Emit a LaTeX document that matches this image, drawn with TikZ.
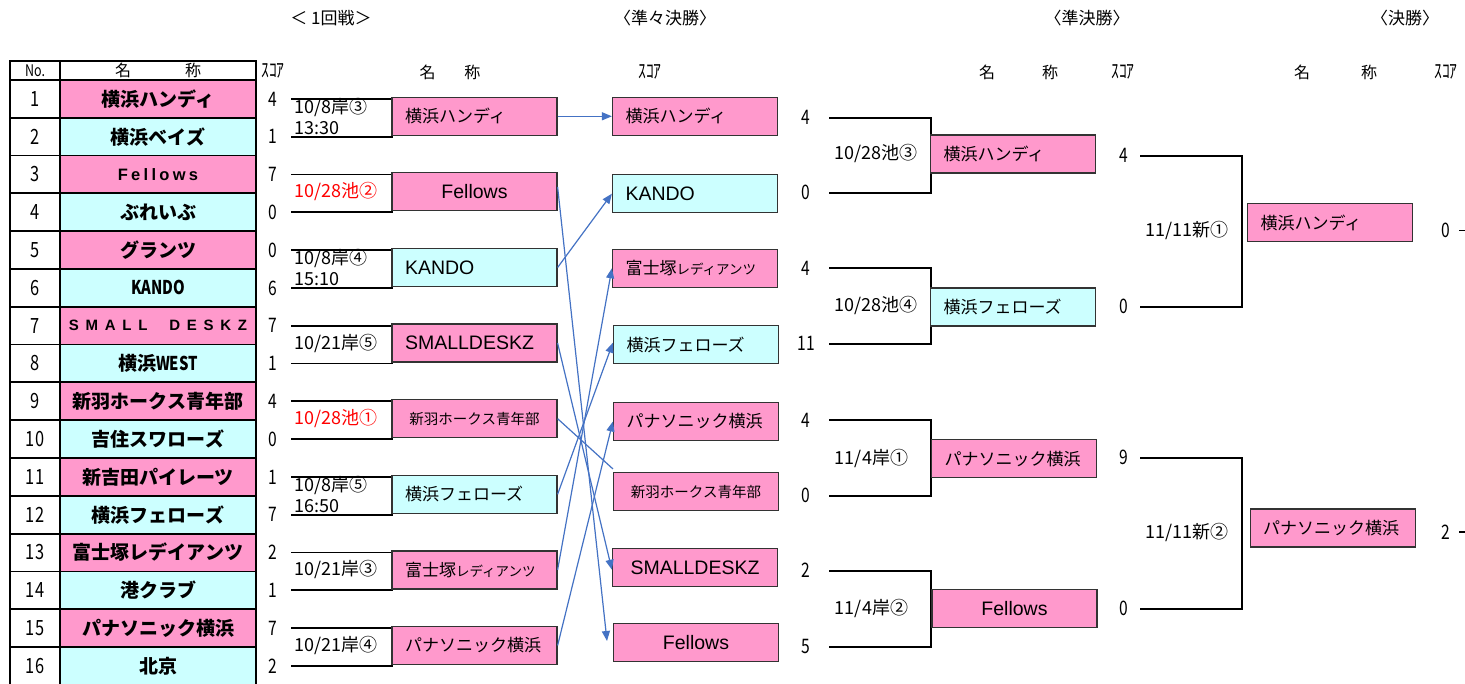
\documentclass[tikz,border=0pt]{standalone}
\usepackage{fontspec}
\setmainfont{Noto Sans CJK JP}
\newfontfamily\jpc[FakeStretch=0.78]{Noto Sans CJK JP}
\newfontfamily\lat{Liberation Sans}
\usetikzlibrary{arrows.meta}
\definecolor{pinkc}{RGB}{255,153,204}
\definecolor{cyanc}{RGB}{204,255,255}
\definecolor{arrc}{RGB}{68,114,196}
\newcommand\fsz[1]{\fontsize{#1}{#1}\selectfont}
\newcommand\tFel{{\lat\bfseries\fsz{16.5}\addfontfeature{LetterSpace=20}Fellows}}
\newcommand\tSmall{{\lat\bfseries\fsz{15}\addfontfeature{LetterSpace=45}SMALL\ \ DESKZ}}
\newcommand\tKando{{\jpc\bfseries KANDO}}
\newcommand\tWest{横浜{\jpc\bfseries WEST}}
\newcommand\lt[1]{{\lat\fsz{19.5}#1}}
\tikzset{
 cell/.style={draw=black, line width=1.8pt, inner sep=0pt, minimum height=37.8pt},
 nocell/.style={cell, minimum width=50pt, fill=white, font=\jpc\fsz{21}},
 namecell/.style={cell, minimum width=196pt, font=\bfseries\fsz{19}},
 score/.style={font=\jpc\fsz{20}, inner sep=0pt},
 box/.style={draw=black!80, line width=1.2pt, minimum height=38pt, text width=139pt, inner xsep=13pt, inner ysep=0pt, align=left, font=\fsz{17}},
 cbox/.style={box, align=center},
 brk/.style={line width=1.8pt, black},
 arr/.style={draw=arrc, line width=1.2pt, -{Triangle[length=10pt,width=8pt]}},
 lnk/.style={draw=arrc, line width=1.2pt},
 date/.style={anchor=west, inner sep=0pt, font=\fontsize{18}{20.5}\selectfont, align=left},
 cdate/.style={inner sep=0pt, font=\fsz{18}},
 head/.style={font=\fsz{17}, inner sep=0pt},
 colhead/.style={font=\fsz{16}, inner sep=0pt},
}
\begin{document}
\begin{tikzpicture}[x=1pt,y=-1pt]
\useasboundingbox (0,0) rectangle (1465,684);
\fill[white] (0,0) rectangle (1465,684);

% titles
\node[head] (t1) at (331,18) {＜ 1回戦＞};
\node[head] (t2) at (665,18) {〈準々決勝〉};
\node[head] (t3) at (1087,18) {〈準決勝〉};
\node[head] (t4) at (1405,18) {〈決勝〉};

% column headers
\node[cell, minimum height=19pt, minimum width=50pt, font=\jpc\fsz{16}] (hno) at (35,70.5) {No.};
\node[cell, minimum height=19pt, minimum width=196pt, font=\fsz{16}] (hnm) at (158,70.5) {名\hspace{54pt}称};
\node[score] (hsc) at (273,71) {ｽｺｱ};
\node[colhead] (h2n) at (450,72) {名\hspace{29pt}称};
\node[score] (h2s) at (650,72) {ｽｺｱ};
\node[colhead] (h3n) at (1018.5,72) {名\hspace{47pt}称};
\node[score] (h3s) at (1123,72) {ｽｺｱ};
\node[colhead] (h4n) at (1335.5,72) {名\hspace{51pt}称};
\node[score] (h4s) at (1446,72) {ｽｺｱ};

% table
\foreach \k/\c/\nm/\s in {1/pinkc/横浜ハンディ/4, 2/cyanc/横浜ベイズ/1, 3/pinkc/\tFel/7, 4/cyanc/ぶれいぶ/0, 5/pinkc/グランツ/0, 6/cyanc/\tKando/6, 7/pinkc/\tSmall/7, 8/cyanc/\tWest/1, 9/pinkc/新羽ホークス青年部/4, 10/cyanc/吉住スワローズ/0, 11/pinkc/新吉田パイレーツ/1, 12/cyanc/横浜フェローズ/7, 13/pinkc/富士塚レデイアンツ/2, 14/cyanc/港クラブ/1, 15/pinkc/パナソニック横浜/7, 16/cyanc/北京/2}{
  \pgfmathsetmacro\yy{61.1+37.8*\k}
  \node[nocell] (no\k) at (35,\yy) {\k};
  \node[namecell, fill=\c] (nm\k) at (158,\yy) {\nm};
  \node[score] (sc\k) at (273,\yy) {\s};
  \coordinate (ln\k) at (291,\yy);
}

% first round brackets
\draw[brk] (ln1) -- ++(101,0) |- (ln2);
\draw[brk] (ln3) -- ++(101,0) |- (ln4);
\draw[brk] (ln5) -- ++(101,0) |- (ln6);
\draw[brk] (ln7) -- ++(101,0) |- (ln8);
\draw[brk] (ln9) -- ++(101,0) |- (ln10);
\draw[brk] (ln11) -- ++(101,0) |- (ln12);
\draw[brk] (ln13) -- ++(101,0) |- (ln14);
\draw[brk] (ln15) -- ++(101,0) |- (ln16);

% first round dates
\node[date] (d1) at (294,116.3) {10/8岸③\\13:30};
\node[date, red] (d2) at (294,191.9) {10/28池②};
\node[date] (d3) at (294,267.5) {10/8岸④\\15:10};
\node[date] (d4) at (294,343.1) {10/21岸⑤};
\node[date, red] (d5) at (294,418.7) {10/28池①};
\node[date] (d6) at (294,494.3) {10/8岸⑤\\16:50};
\node[date] (d7) at (294,569.9) {10/21岸③};
\node[date] (d8) at (294,645.5) {10/21岸④};

% first round winners
\node[box, fill=pinkc] (r1) at (474.5,116.3) {横浜ハンディ};
\node[cbox, fill=pinkc] (r2) at (474.5,191.9) {\lt{Fellows}};
\node[box, fill=cyanc] (r3) at (474.5,267.5) {\lt{KANDO}};
\node[box, fill=pinkc] (r4) at (474.5,343.1) {\lt{SMALLDESKZ}};
\node[cbox, fill=pinkc, font=\fsz{14.5}] (r5) at (474.5,418.7) {新羽ホークス青年部};
\node[box, fill=cyanc] (r6) at (474.5,494.3) {横浜フェローズ};
\node[box, fill=pinkc] (r7) at (474.5,569.9) {富士塚{\fsz{13.5}レディアンツ}};
\node[box, fill=pinkc] (r8) at (474.5,645.5) {パナソニック横浜};

% quarter-final teams
\node[box, fill=pinkc] (q1) at (695,116.3) {横浜ハンディ};
\node[box, fill=cyanc] (q2) at (695,193.7) {\lt{KANDO}};
\node[box, fill=pinkc] (q3) at (695,268.3) {富士塚{\fsz{13.5}レディアンツ}};
\node[box, fill=cyanc] (q4) at (696,344.7) {横浜フェローズ};
\node[box, fill=pinkc] (q5) at (696,421.5) {パナソニック横浜};
\node[cbox, fill=pinkc, font=\fsz{14.5}] (q6) at (696,491.5) {新羽ホークス青年部};
\node[cbox, fill=pinkc] (q7) at (695,567.7) {\lt{SMALLDESKZ}};
\node[cbox, fill=pinkc] (q8) at (696,642.5) {\lt{Fellows}};

% arrows
\coordinate (fe) at (607,641);
\draw[arr] (r1.east) -- (q1.west);
\draw[arr] ([yshift=5pt]r2.east) -- (fe);
\draw[arr] (r3.east) -- (q2.west);
\draw[arr] (r4.east) -- ([yshift=-2pt]q7.west);
\draw[lnk] (r5.east) -- ([yshift=3pt]q6.north west);
\draw[arr] (r6.east) -- ([yshift=2pt]q4.west);
\draw[arr] (r7.east) -- (q3.west);
\draw[arr] (r8.east) -- (q5.west);

% quarter-final scores
\foreach \k/\y/\s in {1/117.7/4, 2/192.7/0, 3/268.3/4, 4/343.7/11, 5/420/4, 6/495.7/0, 7/570.7/2, 8/646.7/5}{
  \node[score] (qs\k) at (806,\y) {\s};
  \coordinate (qa\k) at (829,\y);
}
\draw[brk] (qa1) -- ++(102,0) |- (qa2);
\draw[brk] (qa3) -- ++(102,0) |- (qa4);
\draw[brk] (qa5) -- ++(102,0) |- (qa6);
\draw[brk] (qa7) -- ++(102,0) |- (qa8);

% semi-final
\node[cdate] (sd1) at (876,154) {10/28池③};
\node[cdate] (sd2) at (876,305) {10/28池④};
\node[cdate] (sd3) at (871.5,458) {11/4岸①};
\node[cdate] (sd4) at (871.5,608) {11/4岸②};
\node[box, fill=pinkc] (s1) at (1013,154) {横浜ハンディ};
\node[box, fill=cyanc] (s2) at (1013,307) {横浜フェローズ};
\node[box, fill=pinkc] (s3) at (1014,458.7) {パナソニック横浜};
\node[cbox, fill=pinkc] (s4) at (1014.5,608.2) {\lt{Fellows}};

\foreach \k/\y/\s in {1/155.7/4, 2/306.7/0, 3/457.7/9, 4/608.7/0}{
  \node[score] (ss\k) at (1124,\y) {\s};
  \coordinate (sa\k) at (1140,\y);
}
\draw[brk] (sa1) -- ++(102,0) |- (sa2);
\draw[brk] (sa3) -- ++(102,0) |- (sa4);

% final
\node[cdate] (fd1) at (1187,230) {11/11新①};
\node[cdate] (fd2) at (1187,532.7) {11/11新②};
\node[box, fill=pinkc] (f1) at (1330,222.8) {横浜ハンディ};
\node[box, fill=pinkc] (f2) at (1332.6,528) {パナソニック横浜};
\node[score] (fs1) at (1446,230.5) {0};
\node[score] (fs2) at (1446,532) {2};
\coordinate (fe1) at (1459,230.5);
\coordinate (fe2) at (1459,532);
\draw[brk] (fe1) -- ++(8,0);
\draw[brk] (fe2) -- ++(8,0);
\end{tikzpicture}
\end{document}
